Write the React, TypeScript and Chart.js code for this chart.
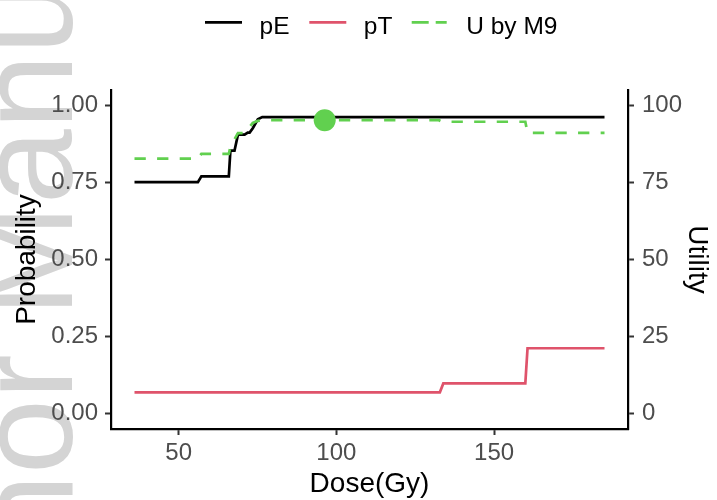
import React, { useEffect, useRef } from 'react';
import { Chart, registerables } from 'chart.js';

Chart.register(...registerables);

// ---- data ----
const doseE = [36, 56.1, 57.2, 65.9, 66.4, 67.7, 68.8, 70.9, 71.9, 72.5, 73.5, 75.1, 76.5, 185];
const probE = [0.751, 0.751, 0.77, 0.77, 0.853, 0.853, 0.905, 0.905, 0.912, 0.912, 0.926, 0.955, 0.962, 0.962];

const doseT = [36, 132.8, 133.9, 159.9, 160.6, 185];
const probT = [0.069, 0.069, 0.098, 0.098, 0.212, 0.212];

const doseU = [36, 56.1, 57.2, 65.9, 66.4, 67.7, 68.8, 70.9, 71.9, 72.5, 73.5, 75.1, 76.5, 132.5, 133.5, 159.9, 160.6, 185];
const utilU = [82.7, 82.7, 84.3, 84.3, 86.5, 89.0, 91.0, 91.0, 92.5, 93.0, 94.3, 95.0, 95.2, 95.2, 94.7, 94.7, 91.1, 91.1];

const optDose = [96.3];
const optUtil = [95.2];

const xTicks = [50, 100, 150];
const probTicks = [0, 0.25, 0.5, 0.75, 1];
const utilTicks = [0, 25, 50, 75, 100];

const seriesLabels = ['pE', 'pT', 'U by M9'];
const seriesColors = ['#000000', '#DF536B', '#61D04F'];

const FONT = '"Liberation Sans", Arial, Helvetica, sans-serif';

const toPts = (xs: number[], ys: number[]) => xs.map((x, i) => ({ x, y: ys[i] }));

const watermarkPlugin = {
  id: 'watermark',
  beforeDraw(chart: any) {
    const ctx = chart.ctx;
    ctx.save();
    ctx.translate(72, 752);
    ctx.rotate(-Math.PI / 2);
    ctx.font = `135px ${FONT}`;
    ctx.fillStyle = '#d4d4d4';
    ctx.textBaseline = 'alphabetic';
    ctx.fillText('Author Manuscript', 0, 0);
    ctx.restore();
  },
};

const legendPlugin = {
  id: 'ggLegend',
  afterDraw(chart: any) {
    const ctx = chart.ctx;
    const starts = [205, 309.3, 411.7];
    const dashes = [[], [], [17, 7]];
    ctx.save();
    seriesLabels.forEach((lab, i) => {
      const x0 = starts[i];
      ctx.beginPath();
      ctx.setLineDash(dashes[i]);
      ctx.strokeStyle = seriesColors[i];
      ctx.lineWidth = 2.8;
      ctx.lineCap = 'butt';
      ctx.moveTo(x0, 22.3);
      ctx.lineTo(x0 + (i === 2 ? 35 : 37), 22.3);
      ctx.stroke();
      ctx.setLineDash([]);
      ctx.fillStyle = '#000000';
      ctx.font = `24.5px ${FONT}`;
      ctx.textBaseline = 'alphabetic';
      ctx.textAlign = 'left';
      ctx.fillText(lab, x0 + 37 + 17.5, 34.3);
    });
    ctx.restore();
  },
};

export default function App() {
  const ref = useRef<HTMLCanvasElement>(null);

  useEffect(() => {
    if (!ref.current) return;
    const tickFont = { family: FONT, size: 24 };
    const titleFont = { family: FONT, size: 28, lineHeight: 1.1 };
    const chart = new Chart(ref.current, {
      type: 'line',
      data: {
        datasets: [
          {
            type: 'scatter',
            label: 'opt',
            data: toPts(optDose, optUtil),
            yAxisID: 'y2',
            pointRadius: 11,
            pointBackgroundColor: seriesColors[2],
            pointBorderWidth: 0,
            borderWidth: 0,
            order: 0,
          } as any,
          {
            label: seriesLabels[2],
            data: toPts(doseU, utilU),
            yAxisID: 'y2',
            borderColor: seriesColors[2],
            borderWidth: 2.7,
            borderDash: [11.3, 11.3],
            pointRadius: 0,
            tension: 0,
            order: 1,
          },
          {
            label: seriesLabels[1],
            data: toPts(doseT, probT),
            yAxisID: 'y',
            borderColor: seriesColors[1],
            borderWidth: 2.7,
            pointRadius: 0,
            tension: 0,
            order: 2,
          },
          {
            label: seriesLabels[0],
            data: toPts(doseE, probE),
            yAxisID: 'y',
            borderColor: seriesColors[0],
            borderWidth: 2.7,
            pointRadius: 0,
            tension: 0,
            order: 3,
          },
        ],
      },
      options: {
        responsive: false,
        animation: false,
        layout: { padding: { top: 90, left: 0, right: 0, bottom: 0 } },
        plugins: { legend: { display: false }, tooltip: { enabled: false } },
        scales: {
          x: {
            type: 'linear',
            position: 'bottom',
            min: 28.55,
            max: 192.45,
            afterBuildTicks: (s: any) => {
              s.ticks = xTicks.map((v) => ({ value: v }));
            },
            afterFit: (s: any) => {
              s.height = 71;
            },
            border: { display: true, color: '#000000', width: 2.2 },
            grid: { drawOnChartArea: false, drawTicks: true, tickLength: 6, tickColor: '#333333', tickWidth: 2 },
            ticks: { color: '#4D4D4D', font: tickFont, padding: 4, autoSkip: false, maxRotation: 0 },
            title: { display: true, text: 'Dose(Gy)', color: '#000000', font: titleFont, padding: { top: 0, bottom: 0 } },
          },
          y: {
            type: 'linear',
            position: 'left',
            min: -0.05,
            max: 1.05,
            afterBuildTicks: (s: any) => {
              s.ticks = probTicks.map((v) => ({ value: v }));
            },
            afterFit: (s: any) => {
              s.width = 111;
            },
            border: { display: true, color: '#000000', width: 2.2 },
            grid: { drawOnChartArea: false, drawTicks: true, tickLength: 6, tickColor: '#333333', tickWidth: 2 },
            ticks: {
              color: '#4D4D4D',
              font: tickFont,
              padding: 7,
              autoSkip: false,
              callback: (v: any) => Number(v).toFixed(2),
            },
            title: { display: true, text: 'Probability', color: '#000000', font: titleFont, padding: { top: 11.6, bottom: 0 } },
          },
          y2: {
            type: 'linear',
            position: 'right',
            min: -5,
            max: 105,
            afterBuildTicks: (s: any) => {
              s.ticks = utilTicks.map((v) => ({ value: v }));
            },
            afterFit: (s: any) => {
              s.width = 89;
            },
            border: { display: true, color: '#000000', width: 2.2 },
            grid: { drawOnChartArea: false, drawTicks: true, tickLength: 6, tickColor: '#333333', tickWidth: 2 },
            ticks: {
              color: '#4D4D4D',
              font: tickFont,
              padding: 8,
              autoSkip: false,
              callback: (v: any) => String(v),
            },
            title: { display: true, text: 'Utility', color: '#000000', font: titleFont, padding: { top: 5, bottom: 0 } },
          },
        },
      },
      plugins: [watermarkPlugin, legendPlugin],
    });
    return () => chart.destroy();
  }, []);

  return (
    <div style={{ position: 'absolute', left: 0, top: 0, width: 717, height: 500, background: '#ffffff' }}>
      <canvas ref={ref} width={717} height={500} />
    </div>
  );
}
